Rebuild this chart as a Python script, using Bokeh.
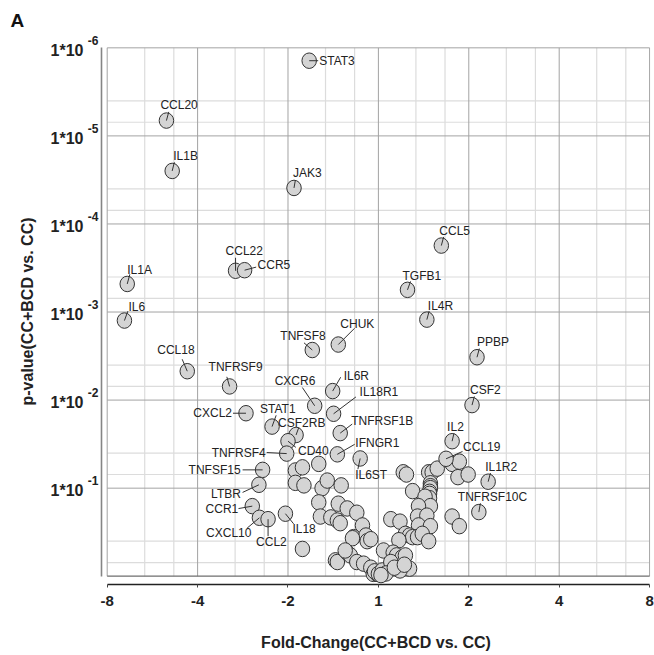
import numpy as np
from bokeh.plotting import figure
from bokeh.models import Range1d, FixedTicker, ColumnDataSource, LinearAxis
from bokeh.embed import file_html
from bokeh.resources import INLINE
from bokeh.core.properties import value

# ---------------- data ----------------
genes = ["STAT3", "CCL20", "IL1B", "JAK3", "CCL22", "CCR5", "IL1A", "IL6", "CCL5", "TGFB1",
         "IL4R", "CHUK", "TNFSF8", "CCL18", "TNFRSF9", "CXCR6", "CXCL2", "STAT1", "CSF2RB", "CD40",
         "TNFRSF4", "TNFSF15", "LTBR", "CCR1", "CXCL10", "CCL2", "IL18", "PPBP", "IL6R", "IL18R1",
         "CSF2", "TNFRSF1B", "IL2", "IFNGR1", "IL6ST", "CCL19", "IL1R2", "TNFRSF10C"]
gene_fc = [-1.70, -5.08, -4.86, -1.91, -2.99, -2.79, -6.86, -7.01, 1.62, 1.25,
           1.45, -1.36, -1.66, -4.33, -3.13, -1.63, -2.76, -2.26, -1.88, -2.00,
           -2.02, -2.43, -2.50, -2.63, -2.49, -2.33, -2.04, 2.13, -1.42, -1.41,
           2.05, -1.34, 1.76, -1.37, -1.15, 1.68, 2.32, 2.16]
gene_p = [1.4e-6, 6.7e-6, 2.5e-5, 3.9e-5, 3.4e-4, 3.35e-4, 4.8e-4, 1.25e-3, 1.76e-4, 5.6e-4,
          1.22e-3, 2.34e-3, 2.7e-3, 4.7e-3, 7.0e-3, 0.0116, 0.0141, 0.020, 0.0249, 0.0293,
          0.0405, 0.062, 0.0916, 0.160, 0.217, 0.225, 0.195, 3.26e-3, 7.9e-3, 0.0143,
          0.0114, 0.0237, 0.0293, 0.0413, 0.046, 0.0464, 0.0845, 0.187]

other_fc = [-1.89, -1.79, -1.58, -1.89, -1.77, -1.54, -1.48, -1.33, -1.58, -1.36,
            -1.27, -1.18, -1.56, -1.44, -1.37, -1.34, -1.13, -1.21, -1.10, -1.09,
            -1.79, -1.39, -1.37, -1.27, -1.24, -1.18, -1.12, -1.06, -1.22, -1.06,
            -1.04, -1.01, -1.03, -1.29,
            1.00, 1.21, 1.24, 1.30, 1.47, 1.51, 1.57, 1.49, 1.49, 1.49,
            1.48, 1.48, 1.48, 1.43, 1.49, 1.36, 1.10, 1.18, 1.35, 1.45,
            1.36, 1.49, 1.23, 1.27, 1.30, 1.35, 1.40, 1.47, 1.17, 1.04,
            1.12, 1.15, 1.20, 1.23, 1.27, 1.18, 1.08, 1.03, 1.10, 1.76,
            1.86, 1.84, 1.99, 1.76, 1.86, 1.06, 1.13, 1.02, 1.22]
other_p = [0.063, 0.058, 0.053, 0.087, 0.093, 0.10, 0.082, 0.093, 0.145, 0.15,
           0.17, 0.19, 0.21, 0.215, 0.233, 0.25, 0.265, 0.36, 0.345, 0.40,
           0.49, 0.66, 0.69, 0.54, 0.58, 0.69, 0.72, 0.80, 0.37, 0.38,
           0.94, 0.94, 0.88, 0.51,
           0.94, 0.066, 0.07, 0.108, 0.066, 0.066, 0.06, 0.088, 0.095, 0.10,
           0.11, 0.116, 0.13, 0.125, 0.16, 0.16, 0.225, 0.24, 0.21, 0.205,
           0.265, 0.27, 0.33, 0.345, 0.36, 0.36, 0.33, 0.40, 0.39, 0.51,
           0.54, 0.58, 0.61, 0.58, 0.82, 0.86, 0.82, 0.86, 0.69, 0.053,
           0.05, 0.075, 0.07, 0.21, 0.27, 0.93, 0.80, 0.97, 0.74]

x_tick_fc = [-8, -4, -2, 1, 2, 4, 8]
x_tick_labels = ["-8", "-4", "-2", "1", "2", "4", "8"]
x_minor_fc = [-6, -4.8, -3, -2.4, -1.5, -1.2, 4/3, 5/3, 8/3, 10/3, 16/3, 20/3]
y_tick_p = [1e-1, 1e-2, 1e-3, 1e-4, 1e-5, 1e-6]
y_tick_base = ["1*10", "1*10", "1*10", "1*10", "1*10", "1*10"]
y_tick_exp = ["-1", "-2", "-3", "-4", "-5", "-6"]
y_bottom_p = 1.0
y_minor_p = [4e-6, 7e-6, 4e-5, 7e-5, 4e-4, 7e-4, 4e-3, 7e-3, 4e-2, 7e-2, 4e-1, 7e-1]

# label layout (screen px offsets, alignment, leader angle in deg, leader length px)
label_layout = {
    "STAT3": (10, 0, "left", 0, 9), "CCL20": (-6, -16, "left", 75, 9),
    "IL1B": (1, -15, "left", 76, 9), "JAK3": (-1, -15, "left", 80, 8),
    "CCL22": (-10, -20, "left", 90, 13), "CCR5": (13, -5, "left", 15, 12),
    "IL1A": (0, -14, "left", 75, 10), "IL6": (4, -14, "left", 70, 10),
    "CCL5": (-2, -15, "left", 75, 9), "TGFB1": (-5, -14, "left", 70, 9),
    "IL4R": (1, -14, "left", 75, 9), "CHUK": (2, -21, "left", 45, 23),
    "TNFSF8": (-32, -14, "left", 139, 11), "CCL18": (-30, -21, "left", 113, 13),
    "TNFRSF9": (-21, -19, "left", 106, 10), "CXCR6": (-40, -25, "left", 124, 22),
    "CXCL2": (-14, 0, "right", 180, 13), "STAT1": (-12, -18, "left", 70, 12),
    "CSF2RB": (-18, -12, "left", 70, 8), "CD40": (10, 10, "left", -38, 10),
    "TNFRSF4": (-21, -1, "right", 177, 20), "TNFSF15": (-22, 0, "right", 180, 20),
    "LTBR": (-18, 9, "right", 205, 18), "CCR1": (-14, 3, "right", 190, 14),
    "CXCL10": (-8, 15, "right", 220, 16), "CCL2": (-12, 23, "left", -90, 17),
    "IL18": (7, 15, "left", -51, 13), "PPBP": (0, -15, "left", 75, 9),
    "IL6R": (11, -15, "left", 60, 16), "IL18R1": (26, -22, "left", 37, 28),
    "CSF2": (-2, -15, "left", 75, 9), "TNFRSF1B": (11, -12, "left", 37, 15),
    "IL2": (-5, -14, "left", 77, 8), "IFNGR1": (18, -11, "left", 30, 20),
    "IL6ST": (-5, 17, "left", -102, 11), "CCL19": (17, -12, "left", 24, 18),
    "IL1R2": (-3, -15, "left", 75, 9), "TNFRSF10C": (-21, -15, "left", 80, 9),
}


def fc_pos(fc):
    fc = np.asarray(fc, dtype=float)
    return np.sign(fc) * np.log2(np.abs(fc))


def p_pos(p):
    return -np.log10(np.asarray(p, dtype=float))


xt = [int(round(v)) for v in fc_pos(x_tick_fc)]
yt = [int(round(v)) for v in p_pos(y_tick_p)]
x_lo, x_hi = min(xt), max(xt)
y_lo, y_hi = float(p_pos(y_bottom_p)), max(yt)

FONT = "Liberation Sans"
Y0, Y1 = y_lo - 0.094, y_hi + 0.106
SUP_SHIFT = 0.088    # exponent raised by ~7.5 px
BASE_SHIFT = -0.03   # base text slightly below the tick

p = figure(width=654, height=655, output_backend="svg", toolbar_location=None,
           x_range=Range1d(x_lo - 0.063, x_hi + 0.01),
           y_range=Range1d(Y0, Y1), y_axis_location=None,
           min_border_left=101, min_border_right=4, min_border_top=38, min_border_bottom=71)
p.extra_y_ranges = {"sup": Range1d(Y0 - SUP_SHIFT, Y1 - SUP_SHIFT),
                    "base": Range1d(Y0 - BASE_SHIFT, Y1 - BASE_SHIFT)}
p.outline_line_color = None
p.xgrid.visible = False
p.ygrid.visible = False
p.background_fill_color = "white"
p.border_fill_color = "white"

# ---- grid (drawn from the tick values) ----
xm = fc_pos(x_minor_fc)
ym = p_pos(y_minor_p)
p.segment(x0=xm, y0=[y_lo] * len(xm), x1=xm, y1=[y_hi] * len(xm), line_color="#dcdcdc", line_width=1.2)
p.segment(x0=[x_lo] * len(ym), y0=ym, x1=[x_hi] * len(ym), y1=ym, line_color="#dcdcdc", line_width=1.2)
p.segment(x0=xt, y0=[y_lo] * len(xt), x1=xt, y1=[y_hi] * len(xt), line_color="#a3a3a3", line_width=1)
p.segment(x0=[x_lo] * len(yt), y0=yt, x1=[x_hi] * len(yt), y1=yt, line_color="#a3a3a3", line_width=1)
p.segment(x0=[x_lo], y0=[y_lo], x1=[x_hi], y1=[y_lo], line_color="#6e6e6e", line_width=1.2)

# ---- points ----
pt_fill = "#d4d4d4"
pt_line = "#333333"
src_o = ColumnDataSource(dict(x=fc_pos(other_fc), y=p_pos(other_p)))
p.ellipse(x="x", y="y", width=14.5, height=15.5, width_units="screen", height_units="screen",
          source=src_o, fill_color=pt_fill, line_color=pt_line, line_width=1)

gx = fc_pos(gene_fc)
gy = p_pos(gene_p)
src_g = ColumnDataSource(dict(
    x=gx, y=gy, name=genes,
    ang=[label_layout[g][3] for g in genes],
    ln=[label_layout[g][4] for g in genes],
))
p.ellipse(x="x", y="y", width=14.5, height=15.5, width_units="screen", height_units="screen",
          source=src_g, fill_color=pt_fill, line_color=pt_line, line_width=1)

p.ray(x="x", y="y", length="ln", angle="ang", angle_units="deg", length_units="screen",
      source=src_g, line_color="#333333", line_width=1)

for al in ("left", "right"):
    idx = [i for i, g in enumerate(genes) if label_layout[g][2] == al]
    s = ColumnDataSource(dict(x=gx[idx], y=gy[idx], name=[genes[i] for i in idx],
                              dx=[label_layout[genes[i]][0] for i in idx],
                              dy=[label_layout[genes[i]][1] for i in idx]))
    p.text(x="x", y="y", text="name", x_offset="dx", y_offset="dy", source=s,
           text_align=al, text_baseline="middle", text_font=value(FONT),
           text_font_size="12px", text_color="#222222")

# ---- x axis ----
p.xaxis.ticker = FixedTicker(ticks=xt, minor_ticks=[])
p.xaxis.major_label_overrides = {t: l for t, l in zip(xt, x_tick_labels)}
p.xaxis.bounds = (x_lo, x_hi)
p.xaxis.axis_line_color = "#222222"
p.xaxis.axis_line_width = 1.4
p.xaxis.major_tick_in = 0
p.xaxis.major_tick_out = 3
p.xaxis.major_tick_line_color = "#444444"
p.xaxis.minor_tick_line_color = None
p.xaxis.major_label_standoff = 8
p.xaxis.major_label_text_font = FONT
p.xaxis.major_label_text_font_style = "bold"
p.xaxis.major_label_text_font_size = "15px"
p.xaxis.major_label_text_color = "#222222"
p.xaxis.axis_label = "Fold-Change(CC+BCD vs. CC)"
p.xaxis.axis_label_text_font = FONT
p.xaxis.axis_label_text_font_style = "bold"
p.xaxis.axis_label_text_font_size = "16px"
p.xaxis.axis_label_text_color = "#222222"
p.xaxis.axis_label_standoff = 25

# ---- y axis: exponents (nearest the frame) + base "1*10" with the title ----
exp_axis = LinearAxis(y_range_name="sup", ticker=FixedTicker(ticks=yt, minor_ticks=[]),
                      major_label_overrides={t: e for t, e in zip(yt, y_tick_exp)},
                      bounds=(y_lo - SUP_SHIFT, y_hi - SUP_SHIFT),
                      axis_line_color="#858585", axis_line_width=1.6,
                      major_tick_in=0, major_tick_out=0, minor_tick_line_color=None,
                      major_label_standoff=3, major_label_text_font=FONT,
                      major_label_text_font_style="bold", major_label_text_font_size="12px",
                      major_label_text_color="#222222")
base_axis = LinearAxis(y_range_name="base", ticker=FixedTicker(ticks=yt, minor_ticks=[]),
                       major_label_overrides={t: b for t, b in zip(yt, y_tick_base)},
                       axis_line_color=None, major_tick_line_color=None,
                       minor_tick_line_color=None, major_tick_in=0, major_tick_out=0,
                       major_label_standoff=1, major_label_text_font=FONT,
                       major_label_text_font_style="bold", major_label_text_font_size="16px",
                       major_label_text_color="#222222",
                       axis_label="p-value(CC+BCD vs. CC)", axis_label_text_font=FONT,
                       axis_label_text_font_style="bold", axis_label_text_font_size="16px",
                       axis_label_text_color="#222222", axis_label_standoff=12)
p.add_layout(exp_axis, "left")
p.add_layout(base_axis, "left")

# ---- panel letter ----
p.title.text = "A"
p.title.align = "left"
p.title.vertical_align = "top"
p.title.offset = -91
p.title.text_font = FONT
p.title.text_font_style = "bold"
p.title.text_font_size = "19px"
p.title.text_color = "#111111"
p.title.standoff = 12

open("out.html", "w").write(file_html(p, INLINE))
